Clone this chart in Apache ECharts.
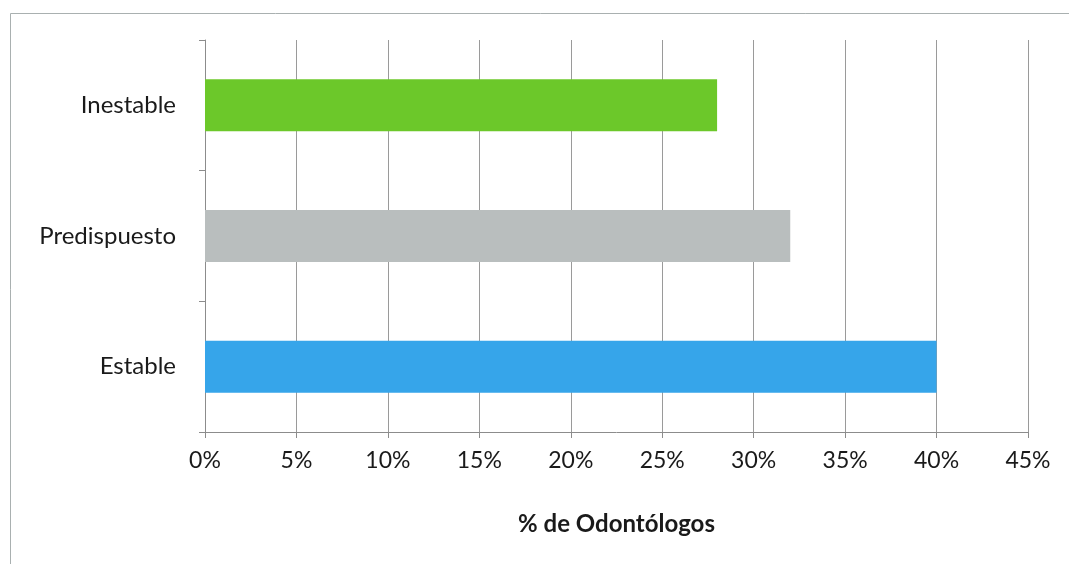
<!DOCTYPE html>
<html>
<head>
<meta charset="utf-8">
<script src="https://cdn.jsdelivr.net/npm/echarts@6/dist/echarts.min.js"></script>
<style>
  html, body { margin: 0; padding: 0; background: #fff; }
  #chart { width: 1069px; height: 564px; }
</style>
</head>
<body>
<div id="chart"></div>
<script>
// data, bottom to top
const categories = ['Estable', 'Predispuesto', 'Inestable']
const values = [40, 32, 28]
const barColors = ['#36a5ea', '#b9bebe', '#6cc82a']
const xTicks = { min: 0, max: 45, interval: 5 }
const xTitle = '% de Odontólogos'

const font = 'Lato, "Open Sans", "Noto Sans", sans-serif'

const chart = echarts.init(document.getElementById('chart'))

chart.setOption({
  animation: false,
  backgroundColor: '#fff',
  graphic: [
    {
      type: 'rect',
      shape: { x: 10.5, y: 13.5, width: 1100, height: 600 },
      style: { fill: 'none', stroke: '#a9b0b0', lineWidth: 1 },
      silent: true
    }
  ],
  grid: {
    left: 205,
    right: 41,
    top: 40,
    bottom: 132
  },
  xAxis: {
    type: 'value',
    min: xTicks.min,
    max: xTicks.max,
    interval: xTicks.interval,
    name: xTitle,
    nameLocation: 'middle',
    nameGap: 80,
    nameTextStyle: {
      fontFamily: font,
      fontSize: 24,
      fontWeight: 'bold',
      color: '#1a1a1a'
    },
    axisLine: { show: true, lineStyle: { color: '#8c8c8c', width: 1 } },
    axisTick: { show: true, length: 6, lineStyle: { color: '#8c8c8c' } },
    axisLabel: {
      formatter: '{value}%',
      margin: 17,
      fontFamily: font,
      fontSize: 23,
      color: '#1a1a1a'
    },
    splitLine: { show: true, lineStyle: { color: '#9a9a9a', width: 1 } }
  },
  yAxis: {
    type: 'category',
    data: categories,
    axisLine: { show: true, lineStyle: { color: '#8c8c8c', width: 1 } },
    axisTick: { show: true, length: 6, lineStyle: { color: '#8c8c8c' } },
    axisLabel: {
      margin: 29,
      fontFamily: font,
      fontSize: 24,
      color: '#1a1a1a'
    },
    splitLine: { show: false }
  },
  series: [
    {
      type: 'bar',
      data: values.map((v, i) => ({
        value: v,
        itemStyle: { color: barColors[i] }
      })),
      barWidth: 52
    }
  ]
})
</script>
</body>
</html>
